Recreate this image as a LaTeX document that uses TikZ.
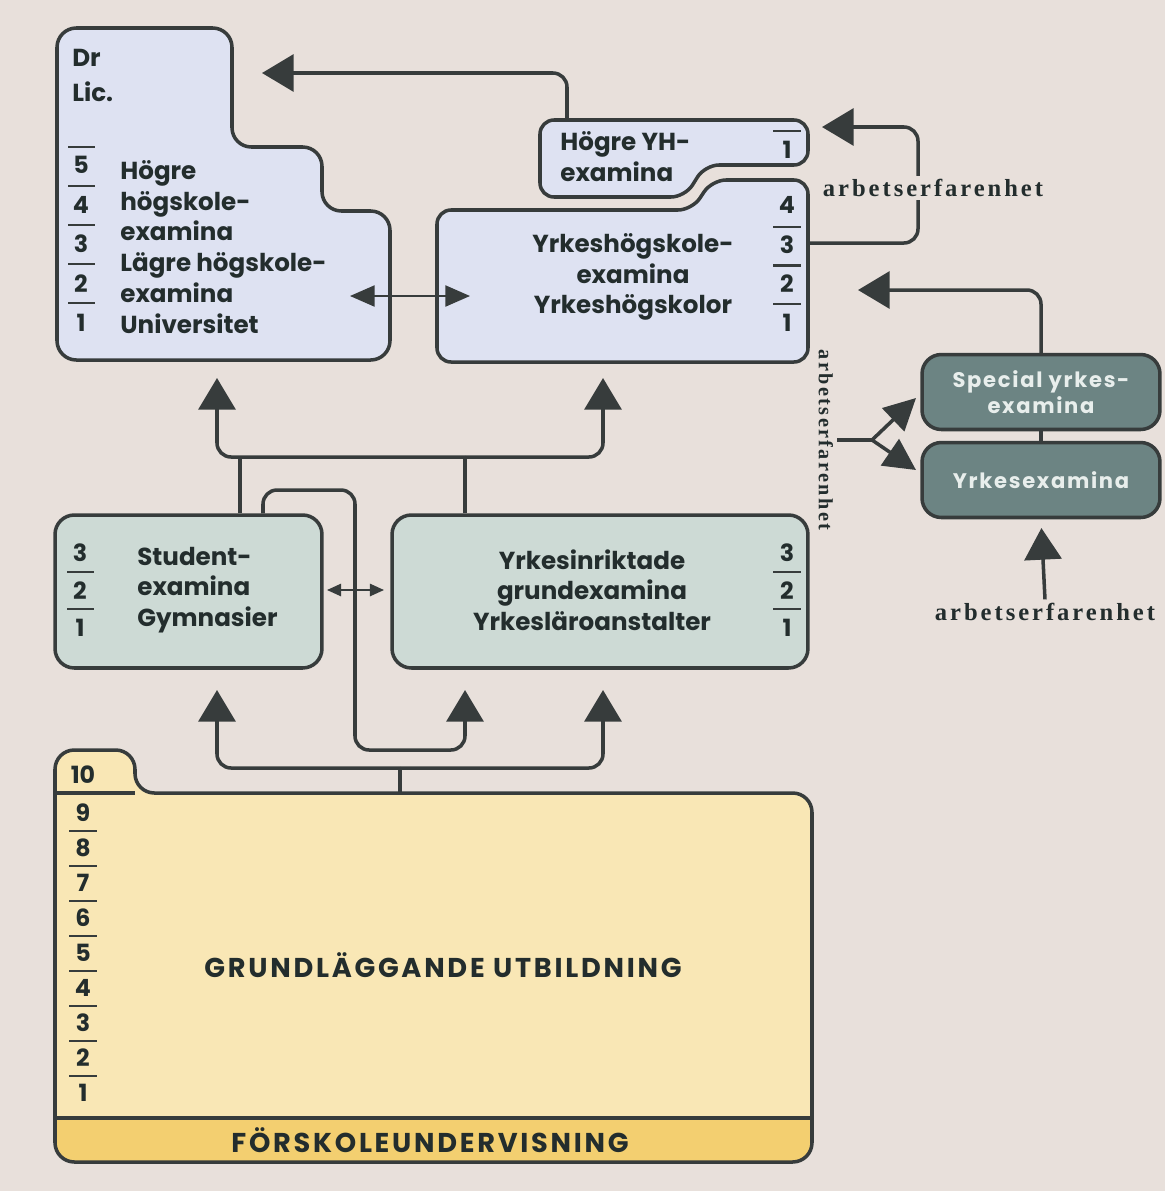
\documentclass[tikz,border=0pt]{standalone}
\usepackage{fontspec}
\usetikzlibrary{arrows.meta}
\newfontfamily\futfont{Poppins}
\newfontfamily\futwide[LetterSpace=8]{Poppins}
\newfontfamily\futcaps[LetterSpace=10]{Poppins}
\newfontfamily\erffont[LetterSpace=12]{Liberation Serif}
\definecolor{bgc}{RGB}{232,224,219}
\definecolor{lnc}{RGB}{55,60,60}
\definecolor{txc}{RGB}{35,45,45}
\definecolor{unic}{RGB}{222,226,242}
\definecolor{midc}{RGB}{205,218,213}
\definecolor{specc}{RGB}{108,132,131}
\definecolor{spectx}{RGB}{232,238,236}
\definecolor{grc}{RGB}{249,231,181}
\definecolor{bandc}{RGB}{243,207,112}
\begin{document}
\begin{tikzpicture}[x=0.02cm,y=-0.02cm,
	ln/.style={line width=2pt,draw=lnc,rounded corners=8pt},
	arr/.style={ln,-{Triangle[width=21pt,length=18pt]}},
	forkarr/.style={line width=2pt,draw=lnc,-{Triangle[width=18pt,length=18pt]}},
	dbl/.style={line width=1pt,draw=lnc,{Triangle[width=12pt,length=14pt]}-{Triangle[width=12pt,length=14pt]}},
	sdbl/.style={line width=1pt,draw=lnc,{Triangle[width=7pt,length=8pt]}-{Triangle[width=7pt,length=8pt]}},
	box/.style={line width=2pt,draw=lnc,rounded corners=11pt},
	specbox/.style={box,fill=specc,text=spectx,align=center,minimum width=4.76cm,minimum height=1.5cm,
		font=\futwide\bfseries\fontsize{12}{15}\selectfont},
	txt/.style={font=\futfont\bfseries\fontsize{14}{17.5}\selectfont,text=txc,inner sep=0pt},
	big/.style={font=\futcaps\bfseries\fontsize{15.5}{17}\selectfont,text=txc,inner sep=0pt},
	nr/.style={font=\futfont\bfseries\fontsize{13.5}{14}\selectfont,text=txc,inner sep=0pt},
	bar/.style={line width=1.3pt,draw=lnc},
	erf/.style={font=\erffont\bfseries\fontsize{14}{16}\selectfont,text=txc,fill=bgc,inner sep=2pt}]
	
	\useasboundingbox (0,0) rectangle (1165,1191);
	\fill[bgc] (0,0) rectangle (1165,1191);
	
	% universitet
	\draw[box,fill=unic] (57,28) -- (232,28) -- (232,147) -- (322,147) -- (322,211) -- (390,211) -- (390,360) -- (57,360) -- cycle;
	% yrkeshogskola
	\draw[box,fill=unic,rounded corners=8pt] (540,120) -- (808,120) -- (808,165) -- (705,165) -- (685,197) -- (540,197) -- cycle;
	\draw[box,fill=unic,rounded corners=8pt] (437,210) -- (692,210) -- (712,180) -- (808,180) -- (808,362) -- (437,362) -- cycle;
	
	% grundlaggande
	\begin{scope}
		\clip[rounded corners=11pt] (55,1162) -- (55,750) -- (135,750) -- (135,793) -- (812,793) -- (812,1162) -- cycle;
		\fill[grc] (0,700) rectangle (900,1118);
		\fill[bandc] (0,1118) rectangle (900,1200);
	\end{scope}
	\draw[box] (55,1162) -- (55,750) -- (135,750) -- (135,793) -- (812,793) -- (812,1162) -- cycle;
	\draw[ln] (55,793) -- (135,793);
	\draw[ln] (55,1118) -- (812,1118);
	
	\node[box,fill=midc,minimum width=5.34cm,minimum height=3.06cm] (gym) at (188.5,591.5) {};
	\node[box,fill=midc,minimum width=8.32cm,minimum height=3.06cm] (ylb) at (600,591.5) {};
	\node[specbox] (spec) at (1041,392) {Special yrkes-\\examina};
	\node[specbox] (yex) at (1041,480) {Yrkesexamina};
	
	% texts
	\node[txt,anchor=north west,align=left,font=\futfont\bfseries\fontsize{14}{20}\selectfont] (drlic) at (72,49) {Dr\\Lic.};
	\node[txt,anchor=north west,align=left] (unitxt) at (120,160) {Högre\\högskole-\\examina\\Lägre högskole-\\examina\\Universitet};
	\node[txt,anchor=north west,align=left] (hyhtxt) at (560,131) {Högre YH-\\examina};
	\node[txt,align=center] (yhtxt) at (633,277) {Yrkeshögskole-\\examina\\Yrkeshögskolor};
	\node[txt,anchor=west,align=left] (gymtxt) at (137,590) {Student-\\examina\\Gymnasier};
	\node[txt,align=center] (ylbtxt) at (592,590) {Yrkesinriktade\\grundexamina\\Yrkesläroanstalter};
	\node[big] (grtxt) at (443,965) {GRUNDLÄGGANDE UTBILDNING};
	\node[big] (fstxt) at (430,1140) {FÖRSKOLEUNDERVISNING};
	
	% arskurser
	\foreach \n [count=\i from 0] in {5,4,3,2,1}
	{
		\node[nr] (un\n) at (81,{165+\i*39.5}) {\n};
		\draw[bar] (68,{147+\i*39}) -- (95,{147+\i*39});
	}
	\foreach \n [count=\i from 0] in {4,3,2,1}
		\node[nr] (yn\n) at (787,{205+\i*39.3}) {\n};
	\foreach \i in {0,1,2}
		\draw[bar] (773,{227+\i*38.5}) -- (801,{227+\i*38.5});
	\node[nr] (hn1) at (787,150) {1};
	\draw[bar] (773,131) -- (801,131);
	\foreach \n [count=\i from 0] in {3,2,1}
	{
		\node[nr] (gn\n) at (80,{553+\i*37.5}) {\n};
		\node[nr] (ln\n) at (787,{553+\i*37.5}) {\n};
	}
	\foreach \i in {0,1}
	{
		\draw[bar] (67,{572+\i*37}) -- (94,{572+\i*37});
		\draw[bar] (773,{572+\i*37}) -- (801,{572+\i*37});
	}
	\node[nr] (gr10) at (83,775) {10};
	\foreach \n [count=\i from 0] in {9,...,1}
		\node[nr] (gr\n) at (83,{813+\i*35}) {\n};
	\foreach \i in {0,...,7}
		\draw[bar] (69,{831+\i*35}) -- (97,{831+\i*35});
	
	% top
	\coordinate (hyhTop) at (567,120);
	\coordinate (drIn) at (262,73);
	\draw[arr] (hyhTop) |- (drIn);
	\coordinate (uniR) at (350,296);
	\coordinate (yhL) at (470,296);
	\draw[dbl] (uniR) -- (yhL);
	
	% right side
	\coordinate (yhR) at (808,243);
	\coordinate (kn) at (918,127);
	\coordinate (hyhR) at (822,127);
	\draw[arr] (yhR) -| (kn) -- (hyhR);
	\node[erf] (erf1) at (933,188) {arbetserfarenhet};
	\coordinate (yhIn) at (858,290);
	\draw[arr] (spec.north) |- (yhIn);
	\draw[ln] (spec.south) -- (yex.north);
	\node[erf] (erf3) at (1045,612) {arbetserfarenhet};
	\draw[arr,shorten >=5pt] (erf3.north) -- (yex.south);
	\node[erf,rotate=-90,font=\erffont\bfseries\fontsize{11.5}{14}\selectfont] (erf2) at (826,440) {arbetserfarenhet};
	\coordinate (fork) at (872,440);
	\coordinate (specIn) at (916,398);
	\coordinate (yexIn) at (916,470);
	\draw[ln] (erf2.north) -- (fork);
	\draw[forkarr] (fork) -- (specIn);
	\draw[forkarr] (fork) -- (yexIn);
	
	% middle -> top
	\coordinate (uniIn) at (217,378);
	\coordinate (yhIn2) at (603,378);
	\coordinate (ub) at (465,457);
	\coordinate (gb) at (240,457);
	\draw[arr] (ub) -| (uniIn);
	\draw[arr] (ub) -| (yhIn2);
	\draw[ln] (ylb.north -| ub) -- (ub);
	\draw[ln] (gym.north -| gb) -- (gb);
	
	% gymnasier -> yrkeslaroanstalter
	\coordinate (lt) at (263,490);
	\coordinate (lb) at (355,750);
	\coordinate (ylbIn1) at (465,690);
	\draw[arr] (gym.north -| lt) -- (lt) -| (lb) -| (ylbIn1);
	\coordinate (gymR) at (327,590);
	\coordinate (ylbL) at (384,590);
	\draw[sdbl] (gymR) -- (ylbL);
	
	% grund -> middle
	\coordinate (grTop) at (400,793);
	\coordinate (gb2) at (400,768);
	\coordinate (gymIn) at (217,690);
	\coordinate (ylbIn2) at (603,690);
	\draw[ln] (grTop) -- (gb2);
	\draw[arr] (gb2) -| (gymIn);
	\draw[arr] (gb2) -| (ylbIn2);
\end{tikzpicture}
\end{document}
